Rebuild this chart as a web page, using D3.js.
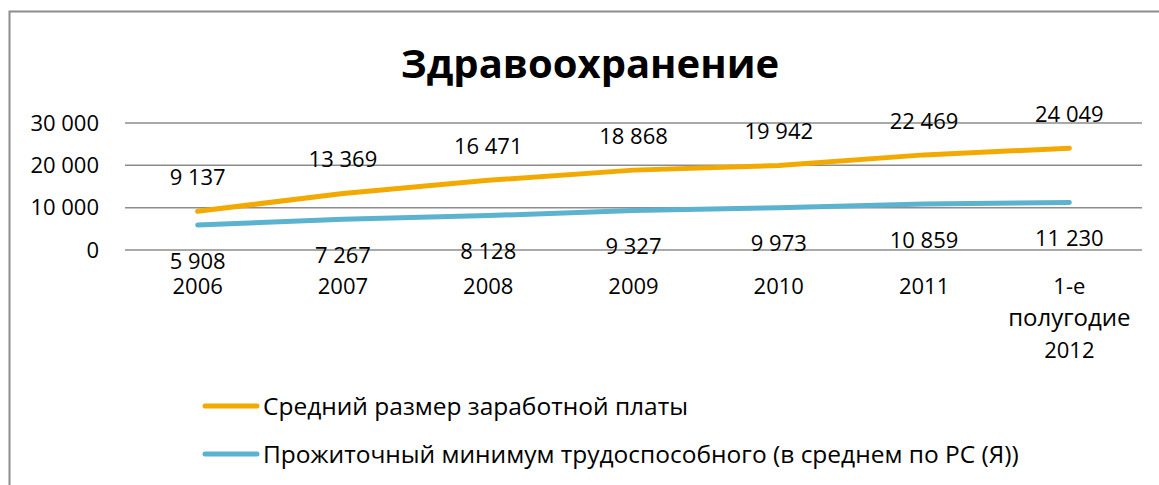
<!DOCTYPE html>
<html>
<head>
<meta charset="utf-8">
<script src="https://cdn.jsdelivr.net/npm/d3@7"></script>
<style>
  body { margin: 0; background: #fff; }
  text { font-family: "Open Sans", sans-serif; fill: #000; }
</style>
</head>
<body>
<div id="chart"></div>
<script>
// data
const categories = ['2006', '2007', '2008', '2009', '2010', '2011', '1-е полугодие 2012']
const categoryLines = [['2006'], ['2007'], ['2008'], ['2009'], ['2010'], ['2011'], ['1-е', 'полугодие', '2012']]
const salary = [9137, 13369, 16471, 18868, 19942, 22469, 24049]
const minimum = [5908, 7267, 8128, 9327, 9973, 10859, 11230]
const yTicks = [0, 10000, 20000, 30000]
const seriesNames = ['Средний размер заработной платы', 'Прожиточный минимум трудоспособного (в среднем по РС (Я))']
const colors = ['#F2AA00', '#5BB3CF']

const dms = {
  width: 1159,
  height: 485,
  plot: { left: 125, right: 1142, top: 123, bottom: 250 }
}

const svg = d3.select('#chart').append('svg')
  .attr('width', dms.width)
  .attr('height', dms.height)

// outer frame (right/bottom edges fall outside the picture)
svg.append('rect')
  .attr('x', 9.5).attr('y', 11.5)
  .attr('width', 1200).attr('height', 500)
  .attr('fill', 'none')
  .attr('stroke', '#8c8c8c')
  .attr('stroke-width', 2)

svg.append('text')
  .attr('x', 590).attr('y', 78)
  .attr('text-anchor', 'middle')
  .style('font-size', '40px')
  .style('font-weight', 'bold')
  .text('Здравоохранение')

const xScale = d3.scaleBand()
  .domain(categories)
  .range([dms.plot.left, dms.plot.right])

const yScale = d3.scaleLinear()
  .domain([0, 30000])
  .range([dms.plot.bottom, dms.plot.top])

const fmt = v => d3.format(',')(v).replace(/,/g, ' ')

// gridlines + y labels
const yAxis = svg.append('g')
yAxis.selectAll('line')
  .data(yTicks)
  .join('line')
  .attr('x1', dms.plot.left).attr('x2', dms.plot.right)
  .attr('y1', d => yScale(d)).attr('y2', d => yScale(d))
  .attr('stroke', '#8c8c8c')
  .attr('stroke-width', 1.5)

yAxis.selectAll('text')
  .data(yTicks)
  .join('text')
  .attr('x', 99)
  .attr('y', d => yScale(d))
  .attr('dy', '0.35em')
  .attr('text-anchor', 'end')
  .style('font-size', '22px')
  .text(fmt)

// category labels
const xAxis = svg.append('g')
xAxis.selectAll('text')
  .data(categories)
  .join('text')
  .attr('x', d => xScale(d) + xScale.bandwidth() / 2)
  .attr('y', 294)
  .attr('text-anchor', 'middle')
  .style('font-size', '22px')
  .each(function (d, i) {
    d3.select(this).selectAll('tspan')
      .data(categoryLines[i])
      .join('tspan')
      .attr('x', xScale(d) + xScale.bandwidth() / 2)
      .attr('dy', (t, j) => j === 0 ? 0 : 32)
      .style('font-size', t => /\d/.test(t) ? '22px' : '24px')
      .text(t => t)
  })

const cx = i => xScale(categories[i]) + xScale.bandwidth() / 2

const lineGen = d3.line()
  .x((d, i) => cx(i))
  .y(d => yScale(d))

const series = [salary, minimum]
const labelOffset = [-34, 36]

series.forEach((vals, s) => {
  svg.append('path')
    .attr('d', lineGen(vals))
    .attr('fill', 'none')
    .attr('stroke', colors[s])
    .attr('stroke-width', 5)
    .attr('stroke-linecap', 'round')
    .attr('stroke-linejoin', 'round')

  svg.append('g').selectAll('text')
    .data(vals)
    .join('text')
    .attr('x', (d, i) => cx(i))
    .attr('y', d => yScale(d) + labelOffset[s])
    .attr('dy', '0.35em')
    .attr('text-anchor', 'middle')
    .style('font-size', '22px')
    .text(fmt)
})

// legend
const legend = svg.append('g')
legend.selectAll('g')
  .data(seriesNames)
  .join('g')
  .attr('transform', (d, i) => `translate(0,${406 + i * 48})`)
  .each(function (d, i) {
    const g = d3.select(this)
    g.append('line')
      .attr('x1', 205).attr('x2', 257)
      .attr('stroke', colors[i])
      .attr('stroke-width', 5)
      .attr('stroke-linecap', 'round')
    g.append('text')
      .attr('x', 263)
      .attr('dy', '0.35em')
      .style('font-size', '24.5px')
      .text(d)
  })
</script>
</body>
</html>
